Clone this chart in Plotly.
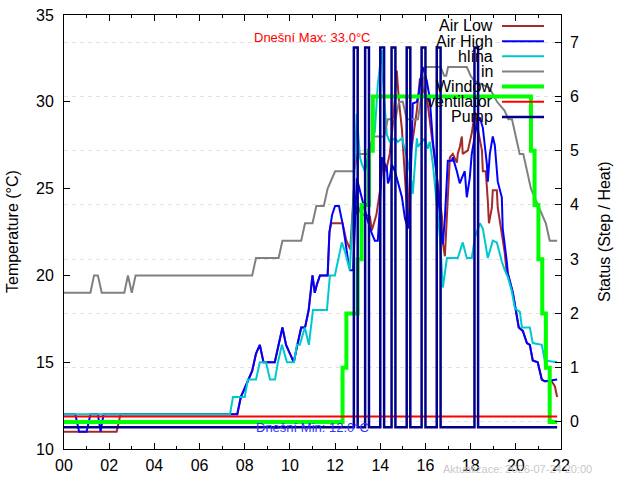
import plotly.graph_objects as go

# ---------------- data ----------------
HOUR_TICKS = [0, 2, 4, 6, 8, 10, 12, 14, 16, 18, 20, 22]
HOUR_LABELS = ["00", "02", "04", "06", "08", "10", "12", "14", "16", "18", "20", "22"]
HOUR_MINOR = [1, 3, 5, 7, 9, 11, 13, 15, 17, 19, 21]
TEMP_TICKS = [10, 15, 20, 25, 30, 35]
STATUS_TICKS = [0, 1, 2, 3, 4, 5, 6, 7]

# (hour, value)
air_low = [(0.00, 11), (2.33, 11), (2.50, 12), (7.67, 12), (7.83, 13), (8.00, 13.5), (8.17, 14), (8.33, 14.5),
           (8.50, 15.5), (8.67, 16), (8.83, 15), (9.33, 15), (9.50, 16), (9.67, 17), (9.83, 16), (10.00, 15.5),
           (10.17, 15), (10.33, 16), (10.50, 17), (10.67, 17), (10.83, 18), (11.00, 20), (11.10, 19), (11.20, 19.5),
           (11.33, 20), (11.67, 20), (11.75, 22.5), (11.83, 23), (12.33, 23), (12.50, 22), (12.67, 21.5),
           (12.83, 24.9), (12.92, 23.5), (13.00, 24), (13.17, 23.5), (13.33, 23.5), (13.54, 23.4), (13.63, 22.6),
           (13.83, 23.5), (14.00, 25), (14.12, 26.8), (14.25, 26), (14.42, 27), (14.58, 29), (14.73, 31.8),
           (14.83, 30), (14.96, 28.4), (15.09, 25.7), (15.22, 23), (15.35, 27), (15.50, 28.5), (15.62, 29.5),
           (15.75, 31.3), (15.84, 31.4), (15.95, 30.5), (16.06, 30.3), (16.28, 28), (16.42, 26.6), (16.55, 25.1),
           (16.73, 23.4), (16.77, 21.9), (16.86, 21.1), (17.08, 26.8), (17.21, 27), (17.39, 26.5), (17.43, 27),
           (17.52, 27.4), (17.61, 28), (17.65, 27), (17.88, 27.2), (18.05, 28.2), (18.19, 29.4), (18.32, 28.4),
           (18.50, 27.2), (18.54, 26), (18.67, 26), (18.76, 24.3), (18.81, 23), (18.94, 23.9), (18.98, 24.9),
           (19.16, 24.9), (19.20, 23.9), (19.38, 22.4), (19.51, 21.3), (19.60, 20.1), (19.65, 20.1), (19.87, 19),
           (20.04, 17.8), (20.13, 17), (20.31, 16.8), (20.49, 16.1), (20.62, 16), (20.75, 15.1), (20.97, 15),
           (21.15, 14), (21.28, 13.9), (21.59, 13.9), (21.73, 13.6), (21.83, 13)]

air_high = [(0.00, 12), (0.50, 12), (0.67, 11), (1.00, 11), (1.17, 12), (1.50, 12), (1.62, 11), (1.75, 12),
            (7.67, 12), (7.83, 13), (8.00, 13.5), (8.17, 14), (8.33, 14.5), (8.50, 15.5), (8.67, 16), (8.83, 15),
            (9.33, 15), (9.50, 16), (9.67, 17), (9.83, 16), (10.00, 15.5), (10.17, 15), (10.33, 16), (10.50, 17),
            (10.67, 17), (10.83, 18), (11.00, 20), (11.10, 19), (11.20, 19.5), (11.33, 20), (11.67, 20),
            (11.75, 22.5), (11.87, 23.5), (12.00, 24), (12.17, 24), (12.33, 23), (12.45, 22), (12.58, 20.8),
            (12.67, 20.3), (12.80, 20.3), (12.96, 25.6), (13.10, 24.9), (13.23, 24.1), (13.41, 23.3), (13.63, 22.4),
            (13.76, 22), (13.89, 22), (13.98, 23.9), (14.07, 26.8), (14.12, 26.6), (14.29, 26.2), (14.34, 25.3),
            (14.42, 25.6), (14.51, 26.4), (14.65, 26), (14.78, 25.3), (14.96, 24.5), (15.09, 23.3), (15.22, 22.7),
            (15.31, 23.9), (15.40, 29.1), (15.44, 29.9), (15.62, 30), (15.71, 30.5), (15.84, 31.8), (15.88, 32),
            (16.06, 31.2), (16.19, 30.2), (16.33, 27.7), (16.50, 25.8), (16.64, 23.3), (16.77, 21.8), (16.86, 23.3),
            (16.95, 25.8), (16.99, 26.6), (17.17, 26.6), (17.21, 26.8), (17.39, 26), (17.52, 25.3), (17.61, 25.6),
            (17.74, 26), (17.83, 24.5), (17.96, 25.6), (18.05, 27), (18.19, 28), (18.27, 28.7), (18.41, 29.1),
            (18.54, 28.5), (18.72, 26.4), (18.76, 25.4), (18.85, 27), (18.98, 28), (19.07, 27.5), (19.16, 26.2),
            (19.20, 25.4), (19.38, 24.5), (19.42, 22.7), (19.60, 20.8), (19.65, 20.1), (19.87, 19), (20.04, 17.8),
            (20.13, 17), (20.31, 16.8), (20.49, 16.1), (20.62, 16), (20.75, 15.1), (20.97, 15), (21.15, 14),
            (21.28, 13.9), (21.83, 14)]

hlina = [(0.00, 12), (7.35, 12), (7.48, 13), (8.00, 13), (8.14, 14), (8.50, 14), (8.67, 15), (8.94, 15),
         (9.12, 14), (9.34, 14), (9.47, 15), (9.65, 16), (9.87, 15), (10.18, 15), (10.31, 16), (10.44, 16),
         (10.66, 17), (10.84, 16), (11.02, 18), (11.64, 18), (11.77, 20), (11.99, 20), (12.30, 21.9),
         (12.43, 21.4), (12.65, 20.3), (12.79, 23.7), (12.96, 29.3), (13.10, 26.8), (13.19, 26.4), (13.32, 26),
         (13.45, 26.8), (13.63, 27.6), (13.76, 28.3), (13.89, 31), (14.07, 33.0), (14.12, 31.2), (14.29, 28.1),
         (14.42, 27.7), (14.65, 27.9), (14.78, 27.7), (14.96, 27.9), (15.18, 26.8), (15.40, 25.3), (15.44, 24.7),
         (15.62, 27.9), (15.66, 27.4), (15.84, 27.7), (15.97, 27.9), (16.10, 27.3), (16.19, 27.7), (16.33, 26.4),
         (16.50, 24.1), (16.64, 22.2), (16.77, 19.3), (16.95, 21), (17.43, 21), (17.65, 21.9), (17.83, 21),
         (18.05, 21), (18.19, 22.2), (18.41, 23), (18.54, 22.7), (18.76, 21), (18.98, 22), (19.16, 21.9),
         (19.38, 20.8), (19.51, 20.3), (19.65, 19.9), (19.82, 19.1), (19.96, 18.1), (20.18, 17.9), (20.27, 17),
         (20.62, 17), (20.75, 16.1), (21.15, 16), (21.28, 15.1), (21.83, 15)]

inside = [(0.00, 19), (1.17, 19), (1.33, 20), (1.50, 20), (1.67, 19), (2.67, 19), (2.83, 20), (3.00, 19),
          (3.17, 20), (8.33, 20), (8.50, 21), (9.50, 21), (9.67, 22), (10.50, 22), (10.67, 23), (11.00, 23),
          (11.17, 24), (11.50, 24), (11.67, 25), (11.83, 25.5), (12.00, 26), (12.83, 26), (13.00, 27),
          (13.50, 27), (13.67, 28), (14.17, 28), (14.33, 29), (14.67, 29), (14.83, 30), (15.00, 30), (15.17, 29),
          (15.67, 29), (15.83, 30.5), (16.00, 32), (16.67, 32), (16.83, 31.5), (16.92, 31.5), (17.00, 32),
          (17.83, 32), (18.00, 31.5), (18.17, 31.2), (18.50, 31), (18.83, 30.8), (19.17, 30), (19.50, 29.5),
          (19.67, 29), (19.83, 29), (20.00, 28), (20.17, 27), (20.33, 27), (20.50, 26), (20.67, 25), (20.83, 24.5),
          (21.00, 24), (21.17, 23.5), (21.33, 23), (21.50, 22), (21.83, 22)]

window = [(0.00, 0), (12.33, 1), (12.50, 2), (13.00, 3), (13.17, 4), (13.50, 5), (13.67, 6), (20.67, 5),
          (20.83, 4), (21.00, 3), (21.17, 2), (21.33, 1), (21.50, 0), (21.83, 0)]

ventilator = [(0.00, 0.1), (21.83, 0.1)]

pump = [(0.00, -0.1), (12.83, 6.9), (13.00, -0.1), (13.33, 6.9), (13.50, -0.1), (14.00, 6.9), (14.17, -0.1),
        (14.50, 6.9), (14.67, -0.1), (15.17, 6.9), (15.33, -0.1), (15.83, 6.9), (16.00, -0.1), (16.50, 6.9),
        (16.67, -0.1), (18.17, 6.9), (18.33, -0.1), (21.83, -0.1)]

MAX_TEXT = "Dnešní Max: 33.0°C"
MIN_TEXT = "Dnešní Min: 12.0°C"
UPDATE_TEXT = "Aktualizace: 2026-07-24 20:00"

# ---------------- styling ----------------
FONT = "Liberation Sans, Arial, sans-serif"
series = [
    ("Air Low", air_low, "y", "#a52a2a", 2, "linear"),
    ("Air High", air_high, "y", "#0000ff", 2, "linear"),
    ("hlína", hlina, "y", "#00c8d0", 2, "linear"),
    ("in", inside, "y", "#808080", 2, "linear"),
    ("Window", window, "y2", "#00ff00", 4, "hv"),
    ("ventilator", ventilator, "y2", "#ff0000", 2, "hv"),
    ("Pump", pump, "y2", "#00008b", 2.5, "hv"),
]

W, H = 640, 480
L, R, T, B = 64, 561, 15, 449  # plot area in pixels


def px(x):
    return (x - L) / (R - L)


def py(y):
    return (B - y) / (B - T)


fig = go.Figure()
for name, pts, yax, color, width, shape in series:
    fig.add_trace(go.Scatter(
        x=[p[0] for p in pts], y=[p[1] for p in pts], yaxis=yax, name=name,
        mode="lines", line=dict(color=color, width=width, shape=shape),
        showlegend=False, hoverinfo="skip"))

annotations = []
shapes = []
# custom legend: text right-aligned, sample to the right
for i, (name, pts, yax, color, width, shape) in enumerate(series):
    row_y = 26 + 15.15 * i
    annotations.append(dict(xref="paper", yref="paper", x=px(495), y=py(row_y), text=name,
                            showarrow=False, xanchor="right", yanchor="middle",
                            font=dict(family=FONT, size=16, color="black")))
    shapes.append(dict(type="line", xref="paper", yref="paper", x0=px(502), x1=px(544),
                       y0=py(row_y), y1=py(row_y), line=dict(color=color, width=width)))

annotations += [
    dict(xref="paper", yref="paper", x=px(312), y=py(37), text=MAX_TEXT, showarrow=False,
         xanchor="center", yanchor="middle", font=dict(family=FONT, size=13, color="#ff0000")),
    dict(xref="paper", yref="paper", x=px(312), y=py(427), text=MIN_TEXT, showarrow=False,
         xanchor="center", yanchor="middle", font=dict(family=FONT, size=13, color="#3333ff")),
    dict(xref="paper", yref="paper", x=px(517), y=py(469), text=UPDATE_TEXT, showarrow=False,
         xanchor="center", yanchor="middle", font=dict(family=FONT, size=11, color="#c8c8c8")),
    dict(xref="paper", yref="paper", x=px(12), y=py(232), text="Temperature (°C)", showarrow=False,
         textangle=-90, xanchor="center", yanchor="middle", font=dict(family=FONT, size=16, color="black")),
    dict(xref="paper", yref="paper", x=px(604), y=py(232), text="Status (Step / Heat)", showarrow=False,
         textangle=-90, xanchor="center", yanchor="middle", font=dict(family=FONT, size=16, color="black")),
]

fig.update_layout(
    width=W, height=H,
    margin=dict(l=L, r=W - R, t=T, b=H - B, pad=0, autoexpand=False),
    paper_bgcolor="white", plot_bgcolor="white",
    font=dict(family=FONT, size=16, color="black"),
    showlegend=False,
    annotations=annotations,
    shapes=shapes,
    xaxis=dict(range=[0, 22], tickmode="array", tickvals=HOUR_TICKS, ticktext=HOUR_LABELS,
               ticks="inside", ticklen=6, tickcolor="black", showline=True, linecolor="black",
               linewidth=1, mirror="ticks", showgrid=False, zeroline=False, ticklabelstandoff=2,
               automargin=False,
               tickfont=dict(family=FONT, size=16, color="black"),
               minor=dict(tickmode="array", tickvals=HOUR_MINOR, ticks="inside", ticklen=3,
                          tickcolor="black", showgrid=False)),
    yaxis=dict(range=[10, 35], tickmode="array", tickvals=TEMP_TICKS, ticks="inside", ticklen=6,
               tickcolor="black", showline=True, linecolor="black", linewidth=1, mirror="ticks",
               showgrid=False, zeroline=False, ticklabelstandoff=6, automargin=False,
               tickfont=dict(family=FONT, size=16, color="black")),
    yaxis2=dict(range=[-0.5, 7.5], overlaying="y", side="right", tickmode="array",
                tickvals=STATUS_TICKS, ticks="inside", ticklen=6, tickcolor="black",
                showline=False, showgrid=True, gridcolor="#e2e2e2", griddash="4px,4px", gridwidth=1,
                zeroline=False, ticklabelstandoff=8, automargin=False,
                tickfont=dict(family=FONT, size=16, color="black")),
)

fig.write_html("out.html")
